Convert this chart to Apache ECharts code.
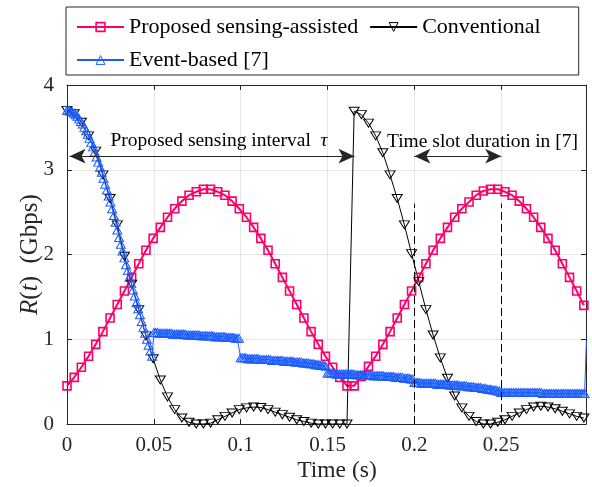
<!DOCTYPE html>
<html>
<head>
<meta charset="utf-8">
<script src="https://cdn.jsdelivr.net/npm/echarts@6/dist/echarts.min.js"></script>
<style>
html, body { margin: 0; padding: 0; background: #fff; }
#chart { width: 592px; height: 487px; }
</style>
</head>
<body>
<div id="chart"></div>
<script>
// sample spacing of the two marker curves, and of the event-based curve (s)
const T_STEP = 0.004133;
const EVENT_STEP = 0.001;
const X_MAX = 0.2988;

const names = ['Proposed sensing-assisted', 'Conventional', 'Event-based [7]'];

const proposed = [
	0.45, 0.55, 0.67, 0.80, 0.94, 1.09, 1.25, 1.41, 1.57, 1.73,
	1.89, 2.05, 2.19, 2.32, 2.44, 2.54, 2.63, 2.70, 2.74, 2.77,
	2.77, 2.74, 2.70, 2.63, 2.54, 2.44, 2.32, 2.19, 2.05, 1.89,
	1.73, 1.57, 1.41, 1.25, 1.09, 0.94, 0.80, 0.67, 0.55, 0.45,
	0.45, 0.56, 0.68, 0.80, 0.94, 1.09, 1.25, 1.41, 1.57, 1.73,
	1.89, 2.05, 2.19, 2.32, 2.44, 2.54, 2.62, 2.70, 2.75, 2.77,
	2.77, 2.74, 2.70, 2.63, 2.54, 2.44, 2.32, 2.19, 2.05, 1.89,
	1.73, 1.57, 1.40
];

const conventional = [
	3.70, 3.66, 3.56, 3.40, 3.22, 2.94, 2.66, 2.35, 1.98, 1.65,
	1.35, 1.04, 0.77, 0.52, 0.32, 0.17, 0.07, 0.02, 0.00, 0.00,
	0.01, 0.05, 0.09, 0.13, 0.17, 0.19, 0.20, 0.195, 0.17, 0.14,
	0.11, 0.08, 0.05, 0.03, 0.01, 0.00, 0.00, 0.00, 0.00, 0.00,
	3.69, 3.65, 3.55, 3.40, 3.20, 2.94, 2.66, 2.35, 2.01, 1.68,
	1.35, 1.05, 0.78, 0.54, 0.33, 0.19, 0.09, 0.03, 0.00, 0.00,
	0.02, 0.05, 0.09, 0.13, 0.17, 0.20, 0.21, 0.20, 0.18, 0.15,
	0.12, 0.09, 0.07
];

const eventBased = [
	// 0 - 0.049
	3.70, 3.70, 3.69, 3.68, 3.67, 3.65, 3.63, 3.60, 3.57, 3.54,
	3.50, 3.46, 3.42, 3.37, 3.32, 3.27, 3.21, 3.15, 3.09, 3.03,
	2.97, 2.90, 2.83, 2.76, 2.69, 2.62, 2.54, 2.46, 2.38, 2.29,
	2.20, 2.12, 2.04, 1.96, 1.88, 1.81, 1.73, 1.66, 1.58, 1.51,
	1.43, 1.36, 1.29, 1.21, 1.14, 1.07, 1.00, 0.93, 0.86, 0.80,
	// 0.05 - 0.099
	1.08, 1.08, 1.08, 1.07, 1.07, 1.07, 1.07, 1.07, 1.07, 1.07,
	1.07, 1.06, 1.06, 1.06, 1.06, 1.06, 1.06, 1.06, 1.06, 1.05,
	1.05, 1.05, 1.05, 1.05, 1.05, 1.05, 1.05, 1.04, 1.04, 1.04,
	1.04, 1.04, 1.04, 1.04, 1.04, 1.03, 1.03, 1.03, 1.03, 1.03,
	1.03, 1.03, 1.02, 1.02, 1.02, 1.02, 1.02, 1.01, 1.01, 1.01,
	// 0.1 - 0.149
	0.78, 0.78, 0.78, 0.78, 0.77, 0.77, 0.77, 0.77, 0.77, 0.77,
	0.77, 0.76, 0.76, 0.76, 0.76, 0.76, 0.76, 0.76, 0.75, 0.75,
	0.75, 0.75, 0.75, 0.75, 0.75, 0.74, 0.74, 0.74, 0.74, 0.74,
	0.74, 0.73, 0.73, 0.73, 0.73, 0.73, 0.72, 0.72, 0.72, 0.72,
	0.71, 0.71, 0.71, 0.70, 0.70, 0.70, 0.69, 0.69, 0.69, 0.68,
	// 0.15 - 0.199
	0.60, 0.60, 0.60, 0.60, 0.60, 0.59, 0.59, 0.59, 0.59, 0.59,
	0.59, 0.59, 0.59, 0.59, 0.59, 0.59, 0.58, 0.58, 0.58, 0.58,
	0.58, 0.58, 0.58, 0.58, 0.58, 0.58, 0.57, 0.57, 0.57, 0.57,
	0.57, 0.57, 0.57, 0.56, 0.56, 0.56, 0.56, 0.56, 0.56, 0.55,
	0.55, 0.55, 0.55, 0.55, 0.54, 0.54, 0.54, 0.54, 0.53, 0.53,
	// 0.2 - 0.249
	0.49, 0.49, 0.49, 0.49, 0.48, 0.48, 0.48, 0.48, 0.48, 0.48,
	0.48, 0.48, 0.48, 0.47, 0.47, 0.47, 0.47, 0.47, 0.47, 0.47,
	0.46, 0.46, 0.46, 0.46, 0.46, 0.46, 0.45, 0.45, 0.45, 0.45,
	0.45, 0.44, 0.44, 0.44, 0.44, 0.43, 0.43, 0.43, 0.43, 0.42,
	0.42, 0.42, 0.41, 0.41, 0.41, 0.40, 0.40, 0.40, 0.39, 0.39,
	// 0.25 - 0.299 (last point lies just past the axis end)
	0.37, 0.37, 0.37, 0.37, 0.37, 0.37, 0.37, 0.37, 0.37, 0.37,
	0.37, 0.37, 0.37, 0.37, 0.37, 0.37, 0.37, 0.37, 0.37, 0.37,
	0.37, 0.37, 0.37, 0.37, 0.36, 0.36, 0.36, 0.36, 0.36, 0.36,
	0.36, 0.36, 0.36, 0.36, 0.36, 0.36, 0.36, 0.36, 0.36, 0.36,
	0.36, 0.36, 0.36, 0.36, 0.36, 0.36, 0.36, 0.36, 0.36, 0.97
];

// annotation anchors (data units)
const ARROW_Y = 3.16;
const SENSE_END = 0.1655;
const SLOT = [0.2, 0.25];
const DASH_TOP = 2.6;

const FONT = 'Liberation Serif';
const AXIS_COLOR = '#262626';
const GRID_COLOR = '#e6e6e6';
const PINK = '#ff0066';
const BLUE = '#1a5cff';
const HOLLOW = 'rgba(255,255,255,0)';
const colors = [PINK, '#000', BLUE];

const chart = echarts.init(document.getElementById('chart'));

function baseAxis(extra) {
	return Object.assign({
		type: 'value',
		axisLine: { show: true, onZero: false, lineStyle: { color: AXIS_COLOR, width: 1 } },
		axisTick: { show: true, inside: true, length: 5, lineStyle: { color: AXIS_COLOR } },
		splitLine: { show: false },
		nameMoveOverlap: false
	}, extra);
}

const option = {
	animation: false,
	backgroundColor: '#fff',
	textStyle: { fontFamily: FONT },
	grid: { left: 67, right: 6, top: 85, bottom: 63, outerBoundsMode: 'none' },
	legend: {
		// hollow markers in the legend, like in the plot
		data: names.map((n, i) => ({
			name: n,
			itemStyle: { color: HOLLOW, borderColor: colors[i], borderWidth: i === 0 ? 1.6 : 1 }
		})),
		left: 66,
		top: 7,
		width: 475, // third entry wraps to the second row
		padding: [9, 38, 4, 10],
		itemGap: 11,
		itemWidth: 47,
		itemHeight: 11,
		borderColor: AXIS_COLOR,
		borderWidth: 1,
		backgroundColor: '#fff',
		textStyle: { fontFamily: FONT, fontSize: 22, color: '#000' }
	},
	xAxis: [
		baseAxis({
			min: 0, max: X_MAX, interval: 0.05,
			splitLine: { show: true, lineStyle: { color: GRID_COLOR } },
			axisLabel: { fontFamily: FONT, fontSize: 21, color: AXIS_COLOR, margin: 11, showMaxLabel: false },
			name: 'Time (s)',
			nameLocation: 'middle',
			nameGap: 35,
			nameTextStyle: { fontFamily: FONT, fontSize: 23.5, color: AXIS_COLOR, padding: [0, 0, 0, 21] }
		}),
		baseAxis({
			position: 'top', min: 0, max: X_MAX, interval: 0.05,
			axisLabel: { show: false }
		})
	],
	yAxis: [
		baseAxis({
			min: 0, max: 4, interval: 1,
			splitLine: { show: true, lineStyle: { color: GRID_COLOR } },
			axisLabel: { fontFamily: FONT, fontSize: 21, color: AXIS_COLOR, margin: 13 },
			name: '{i|R}({i|t})  (Gbps)',
			nameLocation: 'middle',
			nameGap: 24,
			nameTextStyle: {
				fontFamily: FONT, fontSize: 25, color: AXIS_COLOR,
				rich: { i: { fontFamily: FONT, fontSize: 25, fontStyle: 'italic', color: AXIS_COLOR } }
			}
		}),
		baseAxis({
			position: 'right', min: 0, max: 4, interval: 1,
			axisLabel: { show: false }
		})
	],
	series: [
		{
			name: names[0],
			type: 'line',
			data: proposed.map((v, i) => [i * T_STEP, v]),
			symbol: 'rect',
			symbolSize: 8,
			lineStyle: { color: PINK, width: 2 },
			itemStyle: { color: HOLLOW, borderColor: PINK, borderWidth: 1.6 },
			markLine: {
				silent: true,
				animation: false,
				symbol: ['none', 'none'],
				label: { show: false },
				lineStyle: { color: '#000', type: [8, 4], width: 1 },
				data: SLOT.map(x => [{ coord: [x, 0] }, { coord: [x, DASH_TOP] }])
			}
		},
		{
			name: names[1],
			type: 'line',
			data: conventional.map((v, i) => [i * T_STEP, v]),
			symbol: 'triangle',
			symbolRotate: 180,
			symbolSize: [10, 8],
			lineStyle: { color: '#000', width: 1 },
			itemStyle: { color: HOLLOW, borderColor: '#000', borderWidth: 1 },
			markLine: {
				silent: true,
				animation: false,
				symbol: ['arrow', 'arrow'],
				symbolSize: [11, 16],
				label: { show: false },
				lineStyle: { color: AXIS_COLOR, type: 'solid', width: 1.2 },
				data: [
					[{ coord: [0.0015, ARROW_Y] }, { coord: [SENSE_END, ARROW_Y] }],
					[{ coord: [SLOT[0], ARROW_Y] }, { coord: [SLOT[1], ARROW_Y] }]
				]
			}
		},
		{
			name: names[2],
			type: 'line',
			data: eventBased.map((v, i) => [i * EVENT_STEP, v]),
			symbol: 'triangle',
			symbolSize: [9, 8],
			lineStyle: { color: BLUE, width: 1 },
			itemStyle: { color: HOLLOW, borderColor: BLUE, borderWidth: 1 }
		}
	]
};

chart.setOption(option);

// text annotations placed through the axes
const p1 = chart.convertToPixel({ xAxisIndex: 0, yAxisIndex: 0 }, [0.025, 3.345]);
const p2 = chart.convertToPixel({ xAxisIndex: 0, yAxisIndex: 0 }, [0.1842, 3.325]);
chart.setOption({
	graphic: [
		{
			type: 'text', x: p1[0], y: p1[1], silent: true,
			style: {
				text: '{n|Proposed sensing interval  }{i|τ}',
				verticalAlign: 'middle',
				rich: {
					n: { fontFamily: FONT, fontSize: 19.5, fill: '#000' },
					i: { fontFamily: FONT, fontSize: 19.5, fontStyle: 'italic', fill: '#000' }
				}
			}
		},
		{
			type: 'text', x: p2[0], y: p2[1], silent: true,
			style: {
				text: 'Time slot duration in [7]',
				fontFamily: FONT, fontSize: 19.5, fill: '#000',
				verticalAlign: 'middle'
			}
		}
	]
});
</script>
</body>
</html>
